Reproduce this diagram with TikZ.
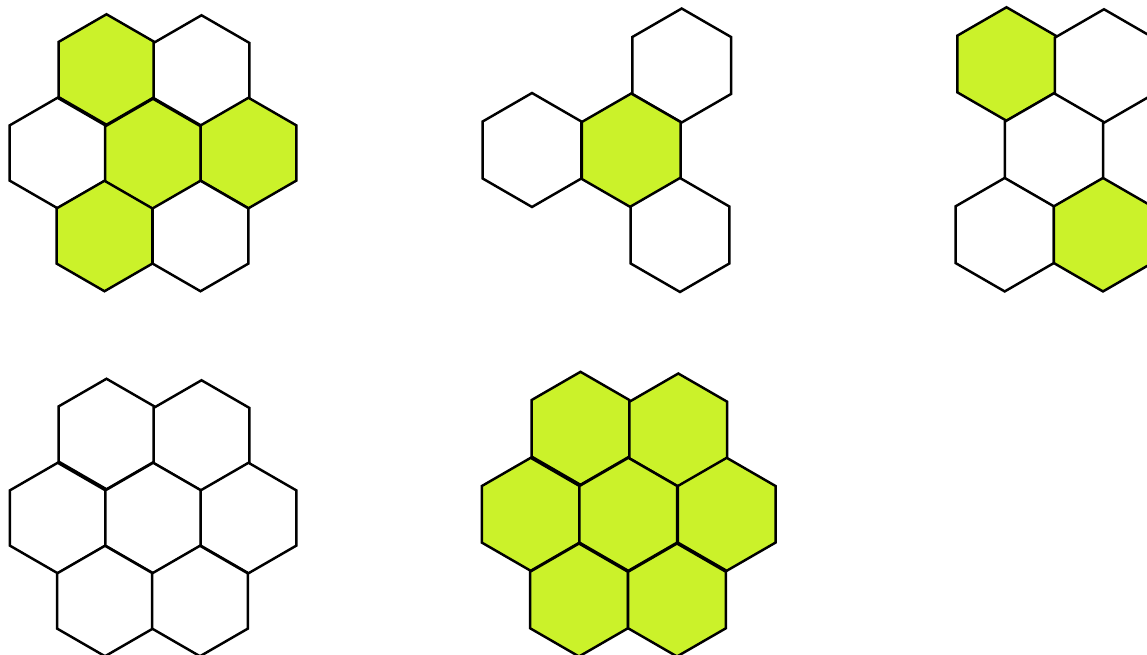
\documentclass[tikz,border=0pt]{standalone}
\usepackage{xcolor}
\usepackage{tikz}
\usetikzlibrary{shapes.geometric}
\definecolor{hexgreen}{RGB}{203,242,42}
\tikzset{
    hexcell/.style = {regular polygon, regular polygon sides=6, shape border rotate=30, inner sep=0pt, minimum size=#1, draw=black, line width=1.4pt, fill=white},
    hexcell/.default = 2.21cm,
    hexfilled/.style = {hexcell=#1, fill=hexgreen},
    hexfilled/.default = 2.21cm
}
\begin{document}
\begin{tikzpicture}[x=0.02cm, y=-0.02cm]
    \clip (0,0) rectangle (1147,655);

    % Top left cluster
    \node [hexfilled] (tla) at (106.5,69.5) {};
    \node [hexcell]   (tlb) at (201.5,70.5) {};
    \node [hexcell]   (tlc) at (57.5,153) {};
    \node [hexfilled] (tld) at (153,154) {};
    \node [hexfilled] (tle) at (248.5,153) {};
    \node [hexfilled] (tlf) at (104.5,236) {};
    \node [hexcell]   (tlg) at (200.5,236) {};

    % Top middle cluster
    \node [hexcell=2.28cm]   (tma) at (681.7,65.5) {};
    \node [hexcell=2.28cm]   (tmb) at (532,150) {};
    \node [hexfilled=2.28cm] (tmc) at (631.2,150.5) {};
    \node [hexcell=2.28cm]   (tmd) at (680,235) {};

    % Top right cluster
    \node [hexfilled=2.27cm] (tra) at (1006.5,64) {};
    \node [hexcell=2.27cm]   (trb) at (1104,66) {};
    \node [hexcell=2.27cm]   (trc) at (1054,150) {};
    \node [hexcell=2.27cm]   (trd) at (1004.7,234.7) {};
    \node [hexfilled=2.27cm] (tre) at (1103,234.7) {};

    % Bottom left cluster
    \node [hexcell] (bla) at (106.5,434) {};
    \node [hexcell] (blb) at (201.5,435.5) {};
    \node [hexcell] (blc) at (57.7,518) {};
    \node [hexcell] (bld) at (153.2,518) {};
    \node [hexcell] (ble) at (248.5,518) {};
    \node [hexcell] (blf) at (105,601) {};
    \node [hexcell] (blg) at (200,601) {};

    % Bottom middle cluster
    \node [hexfilled=2.26cm] (bma) at (580.5,428.3) {};
    \node [hexfilled=2.26cm] (bmb) at (678.3,430) {};
    \node [hexfilled=2.26cm] (bmc) at (530.7,514.3) {};
    \node [hexfilled=2.26cm] (bmd) at (628.3,514.3) {};
    \node [hexfilled=2.26cm] (bme) at (726.7,514.3) {};
    \node [hexfilled=2.26cm] (bmf) at (579,600) {};
    \node [hexfilled=2.26cm] (bmg) at (677,600) {};
\end{tikzpicture}
\end{document}
